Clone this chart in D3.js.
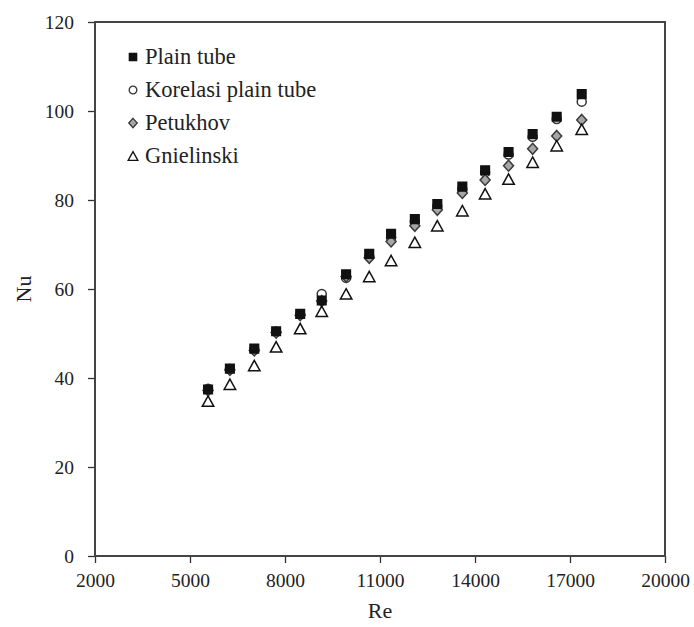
<!DOCTYPE html>
<html>
<head>
<meta charset="utf-8">
<script src="https://cdn.jsdelivr.net/npm/d3@7"></script>
<style>
  body { margin: 0; background: #fff; }
  text { font-family: "Liberation Serif", "Times New Roman", serif; fill: #222; }
</style>
</head>
<body>
<div id="chart"></div>
<script>
// Reynolds numbers of the 17 runs
const re = [5570, 6260, 7030, 7720, 8480, 9160, 9930, 10660, 11350, 12100, 12810, 13600, 14320, 15060, 15820, 16580, 17370];
const plainTube = [37.4, 42.1, 46.6, 50.5, 54.4, 57.4, 63.3, 67.9, 72.4, 75.7, 79.1, 83.0, 86.7, 90.8, 94.8, 98.7, 103.8];
const korelasi = [37.6, 42.0, 46.4, 50.4, 54.3, 58.9, 62.5, 67.3, 71.6, 75.2, 78.6, 82.5, 86.2, 90.2, 94.2, 98.2, 102.1];
const petukhov = [37.2, 41.8, 46.2, 50.2, 54.1, 57.3, 62.8, 67.0, 70.7, 74.2, 77.8, 81.6, 84.5, 87.7, 91.5, 94.4, 98.0];
const gnielinski = [34.8, 38.6, 42.8, 47.0, 51.1, 55.0, 58.9, 62.8, 66.4, 70.5, 74.2, 77.6, 81.4, 84.7, 88.5, 92.2, 95.9];
const xTicks = [2000, 5000, 8000, 11000, 14000, 17000, 20000];
const yTicks = [0, 20, 40, 60, 80, 100, 120];

const W = 694, H = 627;
const margin = { top: 22, right: 29, bottom: 71, left: 95 };
const width = W - margin.left - margin.right;
const height = H - margin.top - margin.bottom;

const svg = d3.select('#chart').append('svg')
  .attr('width', W)
  .attr('height', H);

const g = svg.append('g')
  .attr('transform', `translate(${margin.left},${margin.top})`);

const x = d3.scaleLinear().domain([2000, 20000]).range([0, width]);
const y = d3.scaleLinear().domain([0, 120]).range([height, 0]);

// custom marker shapes (r = half size)
const square = r => `M${-r},${-r}H${r}V${r}H${-r}Z`;
const diamond = r => `M0,${-r * 1.1}L${r},0L0,${r * 1.1}L${-r},0Z`;
const triangle = r => `M0,${-r}L${r * 1.1},${r}H${-r * 1.1}Z`;
const circle = r => `M${r},0A${r},${r} 0 1,1 ${-r},0A${r},${r} 0 1,1 ${r},0Z`;

// axes
const xAxis = g.append('g')
  .attr('transform', `translate(0,${height})`)
  .call(d3.axisBottom(x).tickValues(xTicks).tickSize(7).tickPadding(10).tickFormat(d3.format('d')));
const yAxis = g.append('g')
  .call(d3.axisLeft(y).tickValues(yTicks).tickSize(7).tickPadding(14));

[xAxis, yAxis].forEach(a => {
  a.selectAll('path').remove();
  a.selectAll('line').attr('stroke', '#333').attr('stroke-width', 1.3);
  a.selectAll('text')
    .style('font-family', '"Liberation Serif", "Times New Roman", serif')
    .style('font-size', '19.5px')
    .attr('fill', '#222');
});

// frame
g.append('rect')
  .attr('width', width)
  .attr('height', height)
  .attr('fill', 'none')
  .attr('stroke', '#444')
  .attr('stroke-width', 2);

// series (drawn circles, diamonds, squares, triangles)
const series = {
  plain: { name: 'Plain tube', values: plainTube, shape: square, r: 4.3, fill: '#111', stroke: '#111' },
  korelasi: { name: 'Korelasi plain tube', values: korelasi, shape: circle, r: 4.5, fill: '#fff', stroke: '#333' },
  petukhov: { name: 'Petukhov', values: petukhov, shape: diamond, r: 5, fill: '#a6a6a6', stroke: '#3a3a3a' },
  gnielinski: { name: 'Gnielinski', values: gnielinski, shape: triangle, r: 5.2, fill: '#fff', stroke: '#111' }
};

[series.korelasi, series.petukhov, series.plain, series.gnielinski].forEach(s => {
  g.append('g').selectAll('path')
    .data(s.values)
    .enter()
    .append('path')
    .attr('transform', (d, i) => `translate(${x(re[i])},${y(d)})`)
    .attr('d', s.shape(s.r))
    .attr('fill', s.fill)
    .attr('stroke', s.stroke)
    .attr('stroke-width', 1.5);
});

// legend
const legendOrder = [series.plain, series.korelasi, series.petukhov, series.gnielinski];
const legend = g.append('g').attr('transform', 'translate(38,35)');
legendOrder.forEach((s, i) => {
  const row = legend.append('g').attr('transform', `translate(0,${i * 33})`);
  row.append('path')
    .attr('d', s.shape(s.r * 0.85))
    .attr('fill', s.fill)
    .attr('stroke', s.stroke)
    .attr('stroke-width', 1.3);
  row.append('text')
    .attr('x', 12)
    .attr('y', 7)
    .style('font-size', '22.5px')
    .text(s.name);
});

// axis titles
svg.append('text')
  .attr('x', margin.left + width / 2)
  .attr('y', 618)
  .attr('text-anchor', 'middle')
  .style('font-size', '22px')
  .text('Re');

svg.append('text')
  .attr('transform', `translate(31,${margin.top + height / 2}) rotate(-90)`)
  .attr('text-anchor', 'middle')
  .style('font-size', '22px')
  .text('Nu');
</script>
</body>
</html>
